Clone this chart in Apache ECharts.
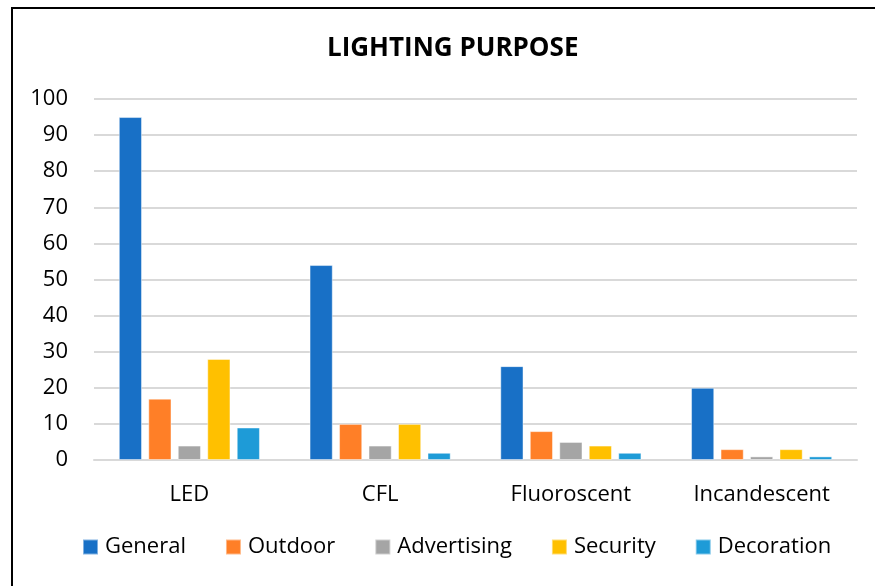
<!DOCTYPE html>
<html><head><meta charset="utf-8">
<script src="https://cdn.jsdelivr.net/npm/echarts@6/dist/echarts.min.js"></script>
<style>html,body{margin:0;padding:0;background:#fff}#c{width:875px;height:586px;position:relative}
#frame{position:absolute;left:11px;top:7px;width:900px;height:600px;border-left:2px solid #000;border-top:2px solid #000;pointer-events:none}</style>
</head><body><div id="c"></div><div id="frame"></div>
<script>
const categories = ['LED', 'CFL', 'Fluoroscent', 'Incandescent'];
const seriesNames = ['General', 'Outdoor', 'Advertising', 'Security', 'Decoration'];
const general = [95, 54, 26, 20];
const outdoor = [17, 10, 8, 3];
const advertising = [4, 4, 5, 1];
const security = [28, 10, 4, 3];
const decoration = [9, 2, 2, 1];
const yTicks = [0, 10, 20, 30, 40, 50, 60, 70, 80, 90, 100];

const colors = ['#1870C6', '#FF7F27', '#A5A5A5', '#FFC000', '#1E9BD7'];
const values = [general, outdoor, advertising, security, decoration];
const font = '"Open Sans", sans-serif';
const chart = echarts.init(document.getElementById('c'));
chart.setOption({
  animation: false,
  title: { text: 'LIGHTING PURPOSE', left: 322, top: 31,
    textStyle: { fontFamily: font, fontSize: 26, fontWeight: 'bold', color: '#000' } },
  legend: { bottom: 28, left: 82, padding: 0, itemWidth: 15, itemHeight: 15, itemGap: 39,
    icon: 'rect', textStyle: { fontFamily: font, fontSize: 22, color: '#000', padding: [0, 0, 0, 2] } },
  grid: { left: 94, right: 18, top: 99, bottom: 126, containLabel: false },
  xAxis: { type: 'category', data: categories,
    axisLine: { lineStyle: { color: '#d9d9d9', width: 2 } }, axisTick: { show: false },
    axisLabel: { fontFamily: font, fontSize: 22, color: '#000', margin: 24 } },
  yAxis: { type: 'value', min: yTicks[0], max: yTicks[yTicks.length - 1], interval: 10,
    axisLine: { show: false }, axisTick: { show: false },
    splitLine: { lineStyle: { color: '#d9d9d9', width: 2 } },
    axisLabel: { fontFamily: font, fontSize: 22, color: '#000', margin: 26 } },
  series: seriesNames.map((n, i) => ({
    name: n, type: 'bar', data: values[i], barGap: '27%', barCategoryGap: '26%',
    itemStyle: { color: colors[i], borderColor: 'rgba(255,255,255,0.45)', borderWidth: 1 }
  }))
});
</script></body></html>
